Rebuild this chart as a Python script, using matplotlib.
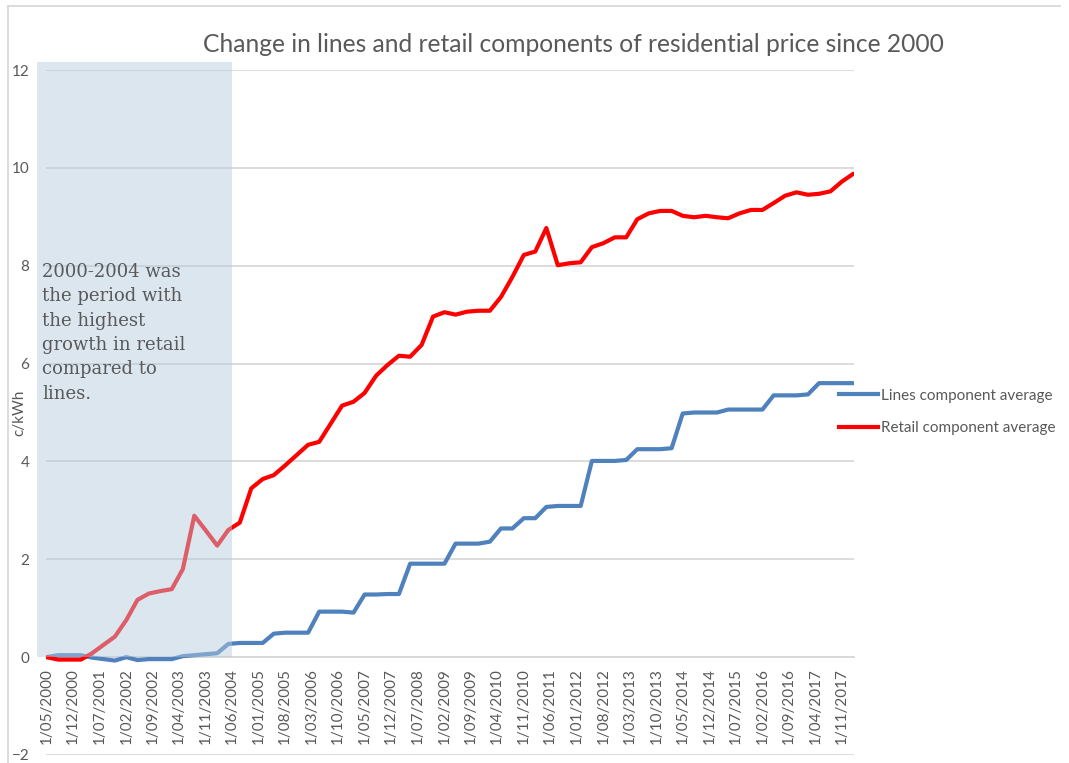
import pandas as pd
import matplotlib.pyplot as plt
import matplotlib.dates as mdates
from matplotlib.patches import Rectangle
from matplotlib.lines import Line2D

# quarterly change since May 2000, c/kWh
retail = [0.00, -0.05, -0.05, -0.05, 0.08, 0.25, 0.42, 0.76, 1.17, 1.30,
          1.35, 1.39, 1.80, 2.89, 2.59, 2.28, 2.60, 2.75, 3.45, 3.64,
          3.72, 3.92, 4.13, 4.34, 4.40, 4.77, 5.14, 5.22, 5.40, 5.75,
          5.97, 6.16, 6.14, 6.38, 6.96, 7.05, 7.00, 7.06, 7.08, 7.08,
          7.36, 7.77, 8.22, 8.29, 8.77, 8.01, 8.05, 8.07, 8.38, 8.46,
          8.58, 8.58, 8.95, 9.07, 9.12, 9.12, 9.02, 8.99, 9.02, 8.99,
          8.97, 9.07, 9.14, 9.14, 9.28, 9.43, 9.50, 9.45, 9.47, 9.52,
          9.72, 9.88]
lines = [0.00, 0.04, 0.04, 0.04, -0.01, -0.04, -0.07, 0.00, -0.06, -0.04,
         -0.04, -0.04, 0.02, 0.04, 0.06, 0.08, 0.27, 0.29, 0.29, 0.29,
         0.48, 0.50, 0.50, 0.50, 0.93, 0.93, 0.93, 0.91, 1.28, 1.28,
         1.29, 1.29, 1.91, 1.91, 1.91, 1.91, 2.32, 2.32, 2.32, 2.36,
         2.63, 2.63, 2.84, 2.84, 3.07, 3.09, 3.09, 3.09, 4.01, 4.01,
         4.01, 4.03, 4.25, 4.25, 4.25, 4.27, 4.98, 5.00, 5.00, 5.00,
         5.06, 5.06, 5.06, 5.06, 5.35, 5.35, 5.35, 5.37, 5.60, 5.60,
         5.60, 5.60]
first_quarter = '2000-05-01'
tick_start = '2000-05-01'
tick_end = '2017-11-01'
shade_start = '2000-02-17'
shade_end = '2004-06-03'
shade_top = 12.17

title = 'Change in lines and retail components of residential price since 2000'
note = ('2000-2004 was\nthe period with\nthe highest\ngrowth in retail\n'
        'compared to\nlines.')

GREY = '#595959'
W, H = 1069, 763

dates = pd.date_range(first_quarter, periods=len(retail), freq='3MS')
ticks = pd.date_range(tick_start, tick_end, freq='7MS')

fig = plt.figure(figsize=(W / 100, H / 100), dpi=100)
ax = fig.add_axes([46 / W, 1 - 755 / H, (854 - 46) / W, (755 - 70) / H])

ax.plot(dates, lines, color='#4f81bd', lw=3, solid_joinstyle='round',
        solid_capstyle='round', label='Lines component average', zorder=3)
ax.plot(dates, retail, color='#ff0000', lw=3, solid_joinstyle='round',
        solid_capstyle='round', label='Retail component average', zorder=3)

ax.set_ylim(-2, 12)
ax.set_yticks(range(-2, 13, 2))
ax.set_xlim(dates[0] - pd.Timedelta(days=5), dates[-1] + pd.Timedelta(days=5))
ax.set_xticks(ticks)
ax.xaxis.set_major_formatter(mdates.DateFormatter('1/%m/%Y'))
ax.grid(axis='y', color='#d9d9d9', lw=1.3, zorder=0)
ax.set_axisbelow(True)

for side in ['top', 'right', 'left']:
    ax.spines[side].set_visible(False)
ax.spines['bottom'].set_position(('data', 0))
ax.spines['bottom'].set_color('#d9d9d9')
ax.spines['bottom'].set_linewidth(1.3)
ax.tick_params(axis='x', length=0, labelrotation=90, labelsize=11,
               labelcolor=GREY, pad=8)
ax.tick_params(axis='y', length=0, labelsize=11, labelcolor=GREY, pad=12)
for lab in ax.get_xticklabels() + ax.get_yticklabels():
    lab.set_family('Lato')

ax.set_ylabel('c/kWh', fontsize=11, color=GREY, family='Lato')
ax.yaxis.set_label_coords(-20 / 808, 0.50)

# shaded 2000-2004 box drawn over the lines
x0 = mdates.date2num(pd.Timestamp(shade_start))
x1 = mdates.date2num(pd.Timestamp(shade_end))
ax.add_patch(Rectangle((x0, 0), x1 - x0, shade_top, facecolor='#b5cadf',
                       alpha=0.47, edgecolor='none', zorder=4,
                       clip_on=False))
ax.text(42 / W, 1 - 263 / H, note, transform=fig.transFigure,
        family='DejaVu Serif', fontsize=13, color=GREY, va='top',
        ha='left', linespacing=1.45, zorder=5)

fig.text(573 / W, 1 - 45 / H, title, ha='center', va='center',
         fontsize=17.7, color=GREY, family='Lato')

handles = [Line2D([], [], color='#4f81bd', lw=3),
           Line2D([], [], color='#ff0000', lw=3)]
fig.legend(handles, ['Lines component average', 'Retail component average'],
           loc='upper left', bbox_to_anchor=(825 / W, 1 - 375 / H),
           frameon=False, handlelength=2.6, handletextpad=0.15,
           labelspacing=1.2, prop={'family': 'Lato', 'size': 11},
           labelcolor=GREY)

# chart border (top and left visible)
fig.add_artist(Line2D([8 / W, 1060 / W], [1 - 6 / H, 1 - 6 / H],
                      color='#d9d9d9', lw=1.3, transform=fig.transFigure))
fig.add_artist(Line2D([8 / W, 8 / W], [1 - 6 / H, 0],
                      color='#d9d9d9', lw=1.3, transform=fig.transFigure))

fig.savefig('out.png', dpi=100)
